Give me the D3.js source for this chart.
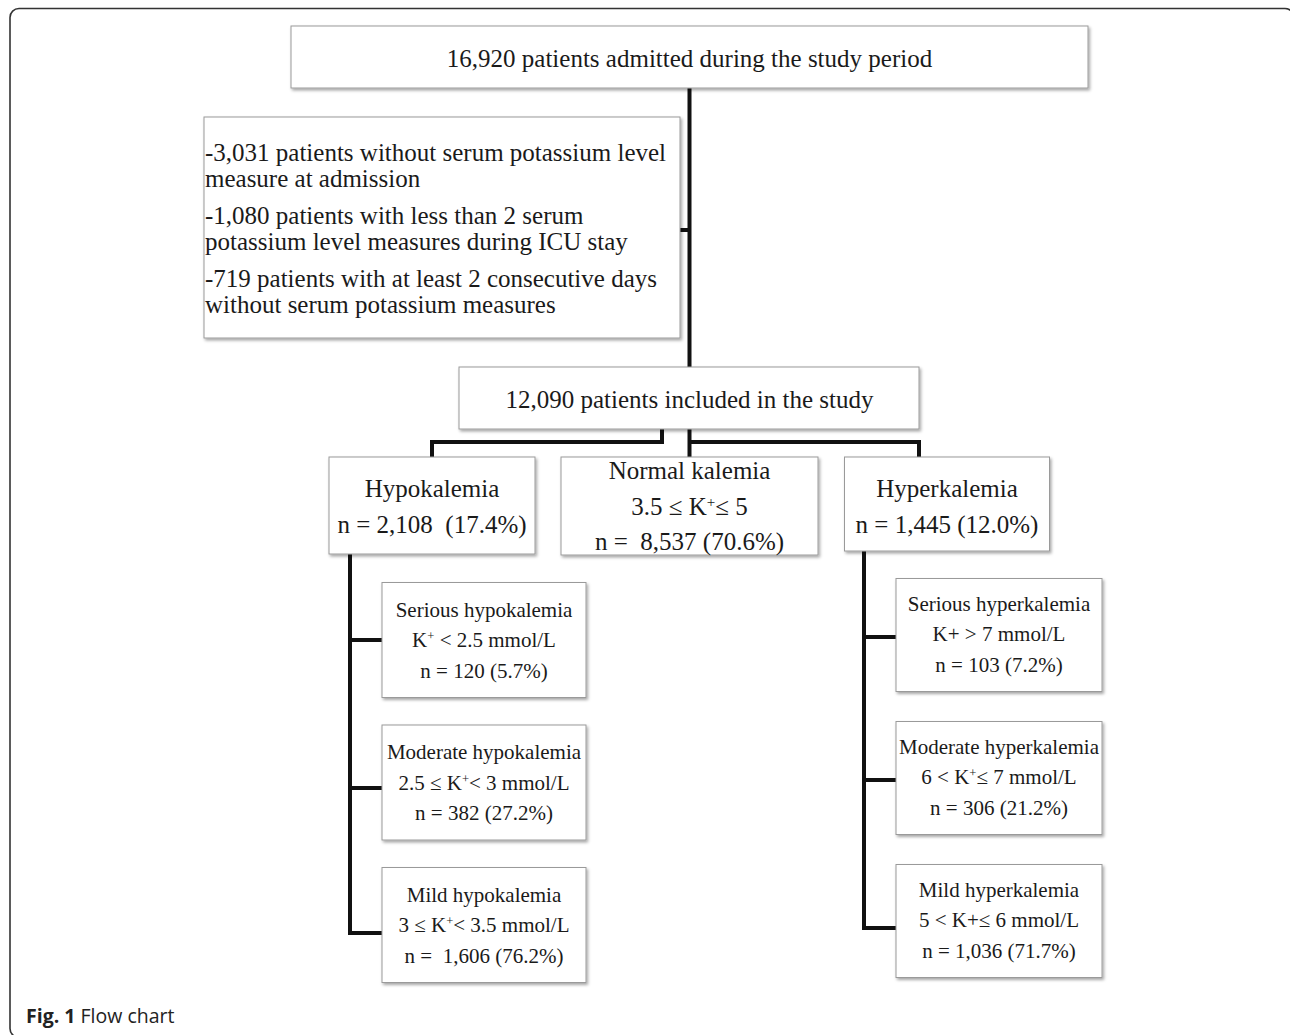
<!DOCTYPE html>
<html>
<head>
<meta charset="utf-8">
<script src="https://cdn.jsdelivr.net/npm/d3@7"></script>
<style>
    body { margin: 0; background: #fff; }
    .box { fill: #fff; stroke: #9a9a9a; stroke-width: 1; }
    .link { fill: none; stroke: #111; stroke-width: 4; stroke-linecap: butt; stroke-linejoin: miter; }
    .boxText { font-family: "Liberation Serif", "Times New Roman", serif; fill: #1a1a1a; white-space: pre; }
    .caption { font-family: "Open Sans", "Noto Sans", sans-serif; font-size: 19.5px; fill: #222; }
</style>
</head>
<body>
<div id="flowChart"></div>
<script>
// ---- chart content (text of every box) ----
const topLabel = ["16,920 patients admitted during the study period"];
const exclusionLines = [
    ["-3,031 patients without serum potassium level", "measure at admission"],
    ["-1,080 patients with less than 2 serum", "potassium level measures during ICU stay"],
    ["-719 patients with at least 2 consecutive days", "without serum potassium measures"]
];
const includedLabel = ["12,090 patients included in the study"];

const groupNames = ["Hypokalemia", "Normal kalemia", "Hyperkalemia"];
const groupLines = [
    ["Hypokalemia", "n = 2,108  (17.4%)"],
    ["Normal kalemia", "3.5 ≤ K{+}≤ 5", "n =  8,537 (70.6%)"],
    ["Hyperkalemia", "n = 1,445 (12.0%)"]
];

const severityLevels = ["Serious", "Moderate", "Mild"];
const hypoSubLines = [
    ["Serious hypokalemia", "K{+} < 2.5 mmol/L", "n = 120 (5.7%)"],
    ["Moderate hypokalemia", "2.5 ≤ K{+}< 3 mmol/L", "n = 382 (27.2%)"],
    ["Mild hypokalemia", "3 ≤ K{+}< 3.5 mmol/L", "n =  1,606 (76.2%)"]
];
const hyperSubLines = [
    ["Serious hyperkalemia", "K+ > 7 mmol/L", "n = 103 (7.2%)"],
    ["Moderate hyperkalemia", "6 < K{+}≤ 7 mmol/L", "n = 306 (21.2%)"],
    ["Mild hyperkalemia", "5 < K+≤ 6 mmol/L", "n = 1,036 (71.7%)"]
];

class FlowChart {
    constructor() {
        this.width = 1290;
        this.height = 1035;
        this.svg = d3.select("#flowChart").append("svg")
            .attr("width", this.width)
            .attr("height", this.height);

        // soft shadow under each box
        let f = this.svg.append("defs").append("filter")
            .attr("id", "shadow")
            .attr("x", "-5%").attr("y", "-5%")
            .attr("width", "115%").attr("height", "120%");
        f.append("feDropShadow")
            .attr("dx", 1.5).attr("dy", 2)
            .attr("stdDeviation", 1.4)
            .attr("flood-color", "#000")
            .attr("flood-opacity", 0.35);

        // horizontal position of the three groups, vertical position of sub boxes
        this.groupX = d3.scalePoint().domain(groupNames).range([432, 947]);
        this.hypoY = d3.scalePoint().domain(severityLevels).range([640, 925]);
        this.hyperY = d3.scalePoint().domain(severityLevels).range([635, 921]);
    }

    // write a list of lines, "{+}" becomes a superscript plus
    writeLines(g, lines, x, cy, size, gap, anchor) {
        let y0 = cy - (lines.length - 1) * gap / 2;
        lines.forEach((line, i) => {
            let t = g.append("text")
                .attr("class", "boxText")
                .attr("x", x)
                .attr("y", y0 + i * gap)
                .attr("dy", "0.35em")
                .attr("text-anchor", anchor || "middle")
                .style("font-size", size + "px");
            line.split(/(\{\+\})/).forEach(part => {
                if (part === "{+}") {
                    t.append("tspan").attr("baseline-shift", "super")
                        .style("font-size", (size * 0.6) + "px").text("+");
                } else if (part.length) {
                    t.append("tspan").text(part);
                }
            });
        });
    }

    box(x, y, w, h) {
        this.svg.append("rect")
            .attr("class", "box")
            .attr("x", x).attr("y", y)
            .attr("width", w).attr("height", h)
            .attr("filter", "url(#shadow)");
    }

    link(points) {
        this.svg.append("path")
            .attr("class", "link")
            .attr("d", d3.line()(points));
    }

    update() {
        // outer frame (right and bottom edges run just off the picture)
        this.svg.append("rect")
            .attr("x", 10).attr("y", 8.5)
            .attr("width", 1284).attr("height", 1029)
            .attr("rx", 9)
            .attr("fill", "none")
            .attr("stroke", "#333")
            .attr("stroke-width", 1.6);

        let cx = this.groupX("Normal kalemia");

        // connectors first so boxes sit on top of them
        this.link([[cx, 88], [cx, 367]]);
        this.link([[680, 230], [cx, 230]]);
        this.link([[cx, 429], [cx, 457]]);
        this.link([[662, 429], [662, 442], [this.groupX("Hypokalemia"), 442], [this.groupX("Hypokalemia"), 457]]);
        this.link([[cx, 442], [919, 442], [919, 457]]);

        // hypokalemia side bracket
        let lx = 350;
        this.link([[lx, 554], [lx, 933]]);
        severityLevels.forEach((s, i) => {
            let y = i === 2 ? 933 : (i === 1 ? 788 : this.hypoY(s));
            this.link([[lx - 2, y], [382, y]]);
        });
        // hyperkalemia side bracket
        let rx = 864;
        this.link([[rx, 551], [rx, 928]]);
        severityLevels.forEach((s, i) => {
            let y = i === 2 ? 928 : (i === 1 ? 780 : this.hyperY(s) + 2);
            this.link([[rx - 2, y], [896, y]]);
        });

        // top box
        this.box(291, 26, 797, 62);
        this.writeLines(this.svg, topLabel, cx, 58, 25, 26);

        // exclusion box
        this.box(204, 117, 476, 221);
        exclusionLines.forEach((pair, i) => {
            this.writeLines(this.svg, pair, 205, 165 + i * 63, 25, 26, "start");
        });

        // included box
        this.box(459, 367, 460, 62);
        this.writeLines(this.svg, includedLabel, cx, 399, 25, 26);

        // three kalemia groups
        let gw = [206, 257, 205], gh = [97, 98, 94];
        groupNames.forEach((name, i) => {
            let x = this.groupX(name);
            this.box(x - gw[i] / 2, 457, gw[i], gh[i]);
            this.writeLines(this.svg, groupLines[i], x, 506, 25, 35.5);
        });

        // sub boxes
        severityLevels.forEach((s, i) => {
            let y = this.hypoY(s), h = 115;
            this.box(382, y - h / 2, 204, h);
            this.writeLines(this.svg, hypoSubLines[i], 484, y, 21, 30.5);

            let y2 = this.hyperY(s), h2 = 113;
            this.box(896, y2 - h2 / 2, 206, h2);
            this.writeLines(this.svg, hyperSubLines[i], 999, y2 - 1, 21, 30.5);
        });

        // caption
        let cap = this.svg.append("text")
            .attr("class", "caption")
            .attr("x", 26).attr("y", 1023);
        cap.append("tspan").style("font-weight", "bold").text("Fig. 1");
        cap.append("tspan").text(" Flow chart");
    }
}

let chart = new FlowChart();
chart.update();
</script>
</body>
</html>
